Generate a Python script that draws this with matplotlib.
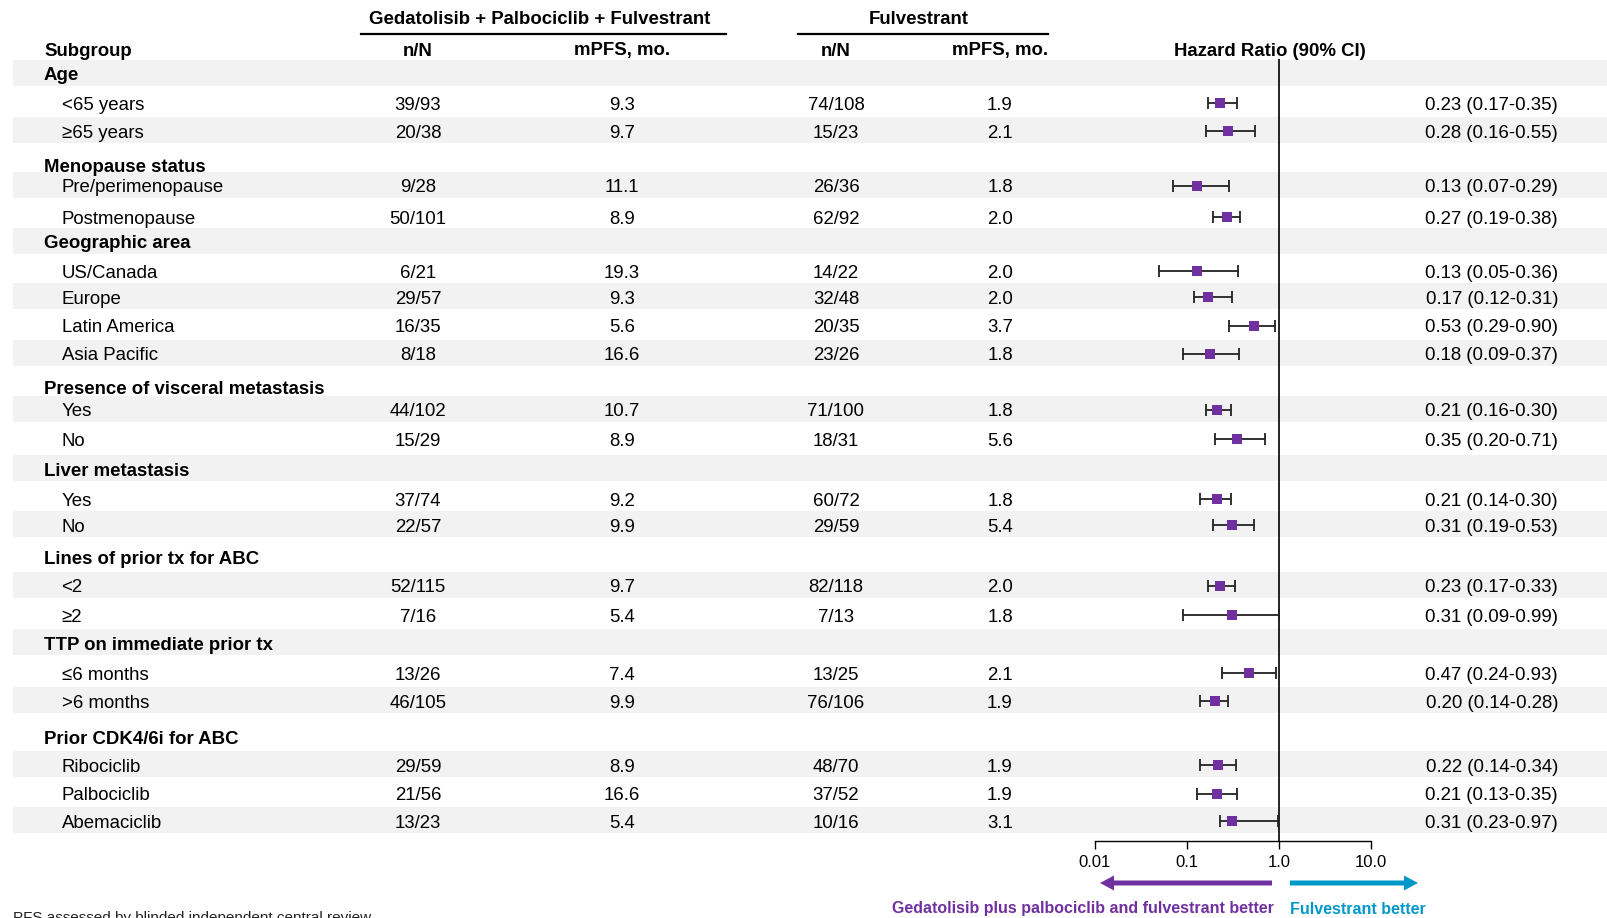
import numpy as np
import matplotlib
matplotlib.use("Agg")
import matplotlib.pyplot as plt
from matplotlib.ticker import FixedLocator, FixedFormatter, NullLocator

plt.rcParams['font.family'] = ['Liberation Sans', 'DejaVu Sans']

# subgroup table
labels = ["Age", "<65 years", "≥65 years",
          "Menopause status", "Pre/perimenopause", "Postmenopause",
          "Geographic area", "US/Canada", "Europe", "Latin America", "Asia Pacific",
          "Presence of visceral metastasis", "Yes", "No",
          "Liver metastasis", "Yes", "No",
          "Lines of prior tx for ABC", "<2", "≥2",
          "TTP on immediate prior tx", "≤6 months", ">6 months",
          "Prior CDK4/6i for ABC", "Ribociclib", "Palbociclib", "Abemaciclib"]
is_group = [1, 0, 0, 1, 0, 0, 1, 0, 0, 0, 0, 1, 0, 0, 1, 0, 0, 1, 0, 0, 1, 0, 0, 1, 0, 0, 0]

gpf_events = ["", "39/93", "20/38", "", "9/28", "50/101", "", "6/21", "29/57", "16/35", "8/18",
              "", "44/102", "15/29", "", "37/74", "22/57", "", "52/115", "7/16",
              "", "13/26", "46/105", "", "29/59", "21/56", "13/23"]
gpf_mpfs = ["", "9.3", "9.7", "", "11.1", "8.9", "", "19.3", "9.3", "5.6", "16.6",
            "", "10.7", "8.9", "", "9.2", "9.9", "", "9.7", "5.4",
            "", "7.4", "9.9", "", "8.9", "16.6", "5.4"]
ful_events = ["", "74/108", "15/23", "", "26/36", "62/92", "", "14/22", "32/48", "20/35", "23/26",
              "", "71/100", "18/31", "", "60/72", "29/59", "", "82/118", "7/13",
              "", "13/25", "76/106", "", "48/70", "37/52", "10/16"]
ful_mpfs = ["", "1.9", "2.1", "", "1.8", "2.0", "", "2.0", "2.0", "3.7", "1.8",
            "", "1.8", "5.6", "", "1.8", "5.4", "", "2.0", "1.8",
            "", "2.1", "1.9", "", "1.9", "1.9", "3.1"]

nan = np.nan
hr = np.array([nan, 0.23, 0.28, nan, 0.13, 0.27, nan, 0.13, 0.17, 0.53, 0.18,
               nan, 0.21, 0.35, nan, 0.21, 0.31, nan, 0.23, 0.31,
               nan, 0.47, 0.20, nan, 0.22, 0.21, 0.31])
ci_lo = np.array([nan, 0.17, 0.16, nan, 0.07, 0.19, nan, 0.05, 0.12, 0.29, 0.09,
                  nan, 0.16, 0.20, nan, 0.14, 0.19, nan, 0.17, 0.09,
                  nan, 0.24, 0.14, nan, 0.14, 0.13, 0.23])
ci_hi = np.array([nan, 0.35, 0.55, nan, 0.29, 0.38, nan, 0.36, 0.31, 0.90, 0.37,
                  nan, 0.30, 0.71, nan, 0.30, 0.53, nan, 0.33, 0.99,
                  nan, 0.93, 0.28, nan, 0.34, 0.35, 0.97])

PURPLE = '#7030A0'
BLUE = '#0098C8'
BAND = '#F2F2F2'
W, H = 1607, 918

# row centres in pixels from the top (rows are not evenly spaced)
row_y = [74, 103, 131, 165, 186, 217, 242, 271, 297, 326, 354, 387, 410, 439,
         469, 499, 525, 558, 586, 615, 643, 673, 701, 737, 765, 794, 821]

fig = plt.figure(figsize=(W / 100, H / 100), dpi=100)

# background axes in pixel units
bg = fig.add_axes([0, 0, 1, 1])
bg.set_xlim(0, W)
bg.set_ylim(H, 0)
bg.axis('off')

fs = 13.4
band_h = 26.5
for i, lab in enumerate(labels):
    y = row_y[i]
    if i % 2 == 0:
        bg.axhspan(y - 1 - band_h / 2, y - 1 + band_h / 2, xmin=13 / W, xmax=1,
                   color=BAND, lw=0, zorder=0)
    ty = y + 2
    if is_group[i]:
        bg.text(44, ty, lab, fontsize=fs, fontweight='bold', va='center', ha='left')
        continue
    bg.text(61.5, ty, lab, fontsize=fs, va='center', ha='left')
    bg.text(418, ty, gpf_events[i], fontsize=fs, va='center', ha='center')
    bg.text(622, ty, gpf_mpfs[i], fontsize=fs, va='center', ha='center')
    bg.text(836, ty, ful_events[i], fontsize=fs, va='center', ha='center')
    bg.text(1000, ty, ful_mpfs[i], fontsize=fs, va='center', ha='center')
    bg.text(1558, ty, f"{hr[i]:.2f} ({ci_lo[i]:.2f}-{ci_hi[i]:.2f})",
            fontsize=fs, va='center', ha='right')

# column headers
bg.text(540, 20, "Gedatolisib + Palbociclib + Fulvestrant", fontsize=fs, fontweight='bold',
        ha='center', va='center')
bg.plot([361, 726], [34, 34], color='black', lw=1.6)
bg.text(919, 20, "Fulvestrant", fontsize=fs, fontweight='bold', ha='center', va='center')
bg.plot([798, 1048], [34, 34], color='black', lw=1.6)
hy = 51
bg.text(44, hy, "Subgroup", fontsize=fs, fontweight='bold', ha='left', va='center')
for x, t in [(418, "n/N"), (622, "mPFS, mo."), (836, "n/N"), (1000, "mPFS, mo."),
             (1270, "Hazard Ratio (90% CI)")]:
    bg.text(x, hy, t, fontsize=fs, fontweight='bold', ha='center', va='center')

# direction arrows
bg.arrow(1272, 883, -172, 0, width=5, head_width=15, head_length=14,
         length_includes_head=True, color=PURPLE, lw=0)
bg.arrow(1290, 883, 128, 0, width=5, head_width=15, head_length=14,
         length_includes_head=True, color=BLUE, lw=0)
bg.text(1274, 909, "Gedatolisib plus palbociclib and fulvestrant better", color=PURPLE,
        fontsize=11.5, fontweight='bold', ha='right', va='center')
bg.text(1290, 909, "Fulvestrant better", color=BLUE, fontsize=11.5, fontweight='bold',
        ha='left', va='center')

bg.text(13, 911, "PFS assessed by blinded independent central review", fontsize=11,
        ha='left', va='top', color='#222222')

# forest plot on a log scale
x0, x1 = 1094.6, 1371.3
ax = fig.add_axes([x0 / W, 0, (x1 - x0) / W, 1])
ax.patch.set_visible(False)
ax.set_xscale('log')
ax.set_xlim(0.01, 10)
ax.set_ylim(H, 0)
for s in ['top', 'left', 'right']:
    ax.spines[s].set_visible(False)
ax.spines['bottom'].set_position(('data', 841))
ax.spines['bottom'].set_linewidth(1.0)
ax.xaxis.set_major_locator(FixedLocator([0.01, 0.1, 1, 10]))
ax.xaxis.set_major_formatter(FixedFormatter(["0.01", "0.1", "1.0", "10.0"]))
ax.xaxis.set_minor_locator(NullLocator())
ax.tick_params(axis='x', direction='out', length=6, width=1.0, pad=4, labelsize=12)
ax.set_yticks([])

ax.vlines(1, 59, 841, color='black', lw=1.2, zorder=1)
ok = ~np.isnan(hr)
ys = np.array(row_y, dtype=float)[ok]
ax.errorbar(hr[ok], ys, xerr=[hr[ok] - ci_lo[ok], ci_hi[ok] - hr[ok]], fmt='none',
            ecolor='#222222', elinewidth=1.3, capsize=4.5, capthick=1.3, zorder=2)
ax.scatter(hr[ok], ys, marker='s', s=44, color=PURPLE, zorder=3, linewidths=0)

fig.savefig("out.png", dpi=100)
